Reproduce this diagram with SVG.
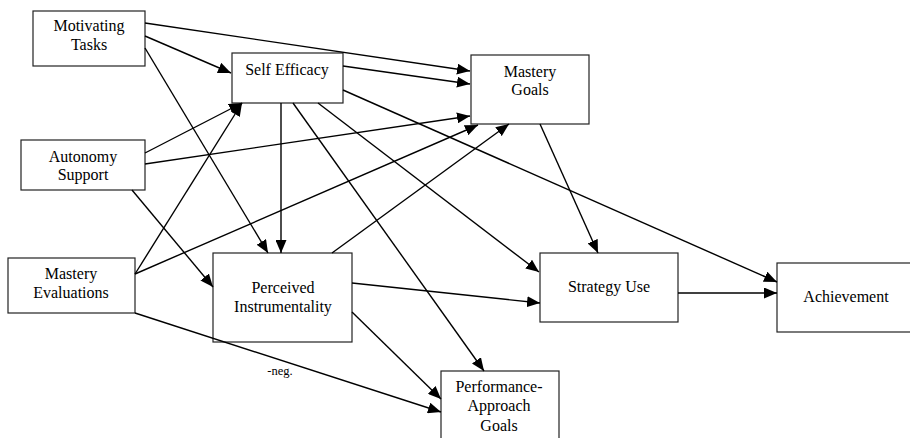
<svg xmlns="http://www.w3.org/2000/svg" width="910" height="438" viewBox="0 0 910 438">
<style>
.box{fill:#fff;stroke:#222;stroke-width:1.2}
.c line{stroke:#000;stroke-width:1.4;marker-end:url(#ah)}
</style>
<defs>
<marker id="ah" markerUnits="userSpaceOnUse" markerWidth="13" markerHeight="11" refX="13" refY="5.5" orient="auto">
<path d="M0,0 L13,5.5 L0,11 z" fill="#000"/>
</marker>
</defs>
<rect width="910" height="438" fill="#fff"/>
<g font-family="Liberation Serif, serif" font-size="16" text-anchor="middle" fill="#000">
<g id="n-motivating"><rect class="box" x="33" y="11" width="112" height="55"/><text x="89" y="31">Motivating</text><text x="89" y="50">Tasks</text></g>
<g id="n-selfefficacy"><rect class="box" x="232" y="53" width="111" height="50"/><text x="287" y="75">Self Efficacy</text></g>
<g id="n-masterygoals"><rect class="box" x="471" y="55" width="118" height="69"/><text x="530" y="77">Mastery</text><text x="530" y="95">Goals</text></g>
<g id="n-autonomy"><rect class="box" x="21" y="140" width="124" height="50"/><text x="83" y="162">Autonomy</text><text x="83" y="180">Support</text></g>
<g id="n-masteryeval"><rect class="box" x="8" y="258" width="127" height="55"/><text x="71" y="279">Mastery</text><text x="71" y="298">Evaluations</text></g>
<g id="n-perceived"><rect class="box" x="213" y="253" width="139" height="89"/><text x="283" y="293">Perceived</text><text x="283" y="312">Instrumentality</text></g>
<g id="n-strategy"><rect class="box" x="540" y="253" width="138" height="69"/><text x="609" y="292">Strategy Use</text></g>
<g id="n-achievement"><rect class="box" x="777" y="263" width="140" height="69"/><text x="846" y="302">Achievement</text></g>
<g id="n-performance"><rect class="box" x="441" y="371" width="118" height="75"/><text x="499" y="392">Performance-</text><text x="499" y="411">Approach</text><text x="499" y="431">Goals</text></g>
</g>
<g class="c" id="connectors">
<line x1="145" y1="23" x2="470" y2="71"/>
<line x1="145" y1="36" x2="231" y2="73"/>
<line x1="145" y1="48" x2="268" y2="253"/>
<line x1="343" y1="66" x2="470" y2="84"/>
<line x1="343" y1="90" x2="777" y2="282"/>
<line x1="281" y1="103" x2="281" y2="253"/>
<line x1="318" y1="103" x2="539" y2="272"/>
<line x1="293" y1="103" x2="484" y2="371"/>
<line x1="145" y1="153" x2="242" y2="103"/>
<line x1="145" y1="164" x2="470" y2="116"/>
<line x1="132" y1="190" x2="213" y2="287"/>
<line x1="135" y1="274" x2="242" y2="103"/>
<line x1="135" y1="274" x2="478" y2="125"/>
<line x1="332" y1="253" x2="509" y2="124"/>
<line x1="540" y1="124" x2="598" y2="253"/>
<line x1="352" y1="283" x2="540" y2="303"/>
<line x1="352" y1="312" x2="441" y2="399"/>
<line x1="135" y1="313" x2="441" y2="412"/>
<line x1="678" y1="293" x2="777" y2="293"/>
</g>
<text x="280" y="375" font-family="Liberation Serif, serif" font-size="12.5" text-anchor="middle">-neg.</text>
</svg>
